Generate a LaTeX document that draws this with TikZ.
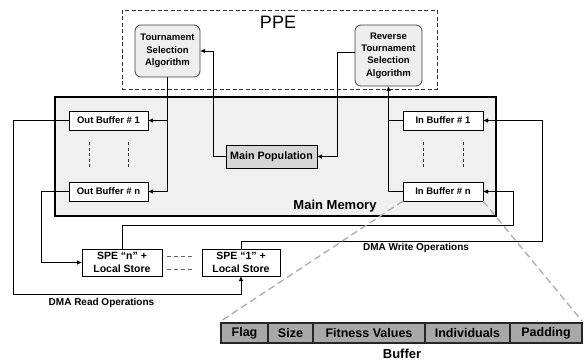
\documentclass[tikz,border=0pt]{standalone}
\usepackage{fontspec}
\setmainfont{Liberation Sans}
\usetikzlibrary{arrows.meta}

\definecolor{memfill}{HTML}{F0F0F0}
\definecolor{algfill}{HTML}{EEEEEE}
\definecolor{popfill}{HTML}{D6D6D6}
\definecolor{cellfill}{HTML}{A8A8A8}
\definecolor{zoomgray}{HTML}{ABABAB}

\begin{document}
\begin{tikzpicture}[x=1pt,y=-1pt,
  every node/.style={inner sep=0pt, outer sep=0pt},
  conn/.style={draw=black, line width=0.8pt, -{Latex[length=5pt,width=4.5pt]}},
  plain/.style={draw=black, line width=0.8pt},
  algbox/.style={draw=black!75, fill=algfill, rounded corners=6pt, line width=0.8pt,
    align=center, font=\bfseries\fontsize{9.5}{12.4}\selectfont},
  bufbox/.style={draw=black, fill=white, line width=0.8pt, minimum height=19pt,
    font=\bfseries\fontsize{9.5}{11}\selectfont},
  spebox/.style={draw=black, fill=white, line width=0.8pt, minimum height=27pt,
    align=center, font=\bfseries\fontsize{10.5}{13.2}\selectfont},
  cell/.style={draw=black!85, fill=cellfill, line width=1.3pt, minimum height=20pt,
    font=\bfseries\fontsize{12.5}{14}\selectfont},
  label/.style={font=\bfseries\fontsize{10}{12}\selectfont},
  vdash/.style={draw=black!80, line width=0.8pt, dash pattern=on 3pt off 2.5pt},
  zoomline/.style={draw=zoomgray, line width=1.3pt, dash pattern=on 7pt off 4pt}
]
\useasboundingbox (0,0) rectangle (588,362);

% PPE region
\node[draw=black!80, dash pattern=on 4pt off 2.5pt, line width=0.9pt,
      minimum width=315pt, minimum height=79pt] (ppe) at (279.5,49.5) {};
\node[font=\fontsize{18}{20}\selectfont] (ppelabel) at (278,22) {PPE};
\node[algbox, minimum width=65pt, minimum height=52pt] (tour) at (167.5,51)
  {Tournament\\Selection\\Algorithm};
\node[algbox, minimum width=67pt, minimum height=61pt] (rev) at (388.5,55.5)
  {Reverse\\Tournament\\Selection\\Algorithm};

% Main memory
\node[draw=black, fill=memfill, line width=2.6pt,
      minimum width=441pt, minimum height=119pt] (mem) at (275.5,156.5) {};
\node[font=\bfseries\fontsize{13}{15}\selectfont] (memlabel) at (335,206) {Main Memory};

\node[bufbox, minimum width=79pt] (out1) at (108.5,120.5) {Out Buffer \# 1};
\node[bufbox, minimum width=79pt] (outn) at (108.5,191.5) {Out Buffer \# n};
\node[bufbox, minimum width=80pt] (in1) at (443,120.5) {In Buffer \# 1};
\node[bufbox, minimum width=80pt] (inn) at (443,191.5) {In Buffer \# n};
\node[draw=black, fill=popfill, line width=0.8pt, minimum width=91pt, minimum height=23pt,
      font=\bfseries\fontsize{10.7}{12}\selectfont] (mpop) at (271.5,156.5) {Main Population};

% elided buffers
\draw[vdash] (89,142) -- (89,168);
\draw[vdash] (128,142) -- (128,168);
\draw[vdash] (423,142) -- (423,168);
\draw[vdash] (463,142) -- (463,168);

% SPEs
\node[spebox, minimum width=80pt] (spen) at (122,262.5) {SPE “n” +\\Local Store};
\node[spebox, minimum width=78pt] (spe1) at (241,262.5) {SPE “1” +\\Local Store};
\draw[draw=black!60, line width=0.9pt, dash pattern=on 4pt off 3pt] (167,256.5) -- (194,256.5);
\draw[draw=black!60, line width=0.9pt, dash pattern=on 4pt off 3pt] (167,269) -- (194,269);

% selection flows
\draw[conn] (tour.south) |- (outn.east);
\draw[conn] (tour.south |- out1.east) -- (out1.east);
\draw[conn] (mpop.west) -- ++(-13,0) |- (tour.east);
\draw[conn] ([yshift=3.5pt]rev.west) -- ++(-18,0) |- (mpop.east);
\draw[conn] (inn.west) -| (rev.south);
\draw[plain] (in1.west) -- (rev.south |- in1.west);

% DMA transfers
\draw[conn] (out1.west) -- ++(-56,0) |- ([yshift=-18pt]spe1.south) -- (spe1.south);
\draw[conn] (outn.west) -- ++(-28,0) |- (spen.west);
\draw[conn] (spen.north) -- ++(0,-24) -| ([xshift=30pt]inn.east) -- (inn.east);
\draw[conn] (spe1.north) -- ++(0,-7.5) -| ([xshift=59pt]in1.east) -- (in1.east);
\node[label] (dmaread) at (101.5,303) {DMA Read Operations};
\node[label] (dmawrite) at (416,248) {DMA Write Operations};

% buffer layout
\node[cell, minimum width=47pt] (flag) at (244.5,333) {Flag};
\node[cell, minimum width=45pt] (size) at (290.5,333) {Size};
\node[cell, minimum width=112pt] (fit) at (369,333) {Fitness Values};
\node[cell, minimum width=85pt] (ind) at (467.5,333) {Individuals};
\node[cell, minimum width=72pt] (pad) at (546,333) {Padding};
\node[font=\bfseries\fontsize{13}{15}\selectfont] (buflabel) at (402,354) {Buffer};
\draw[zoomline] (inn.south west) -- ([yshift=2pt]flag.north west);
\draw[zoomline] (inn.south east) -- ([yshift=2pt]pad.north east);
\end{tikzpicture}
\end{document}
